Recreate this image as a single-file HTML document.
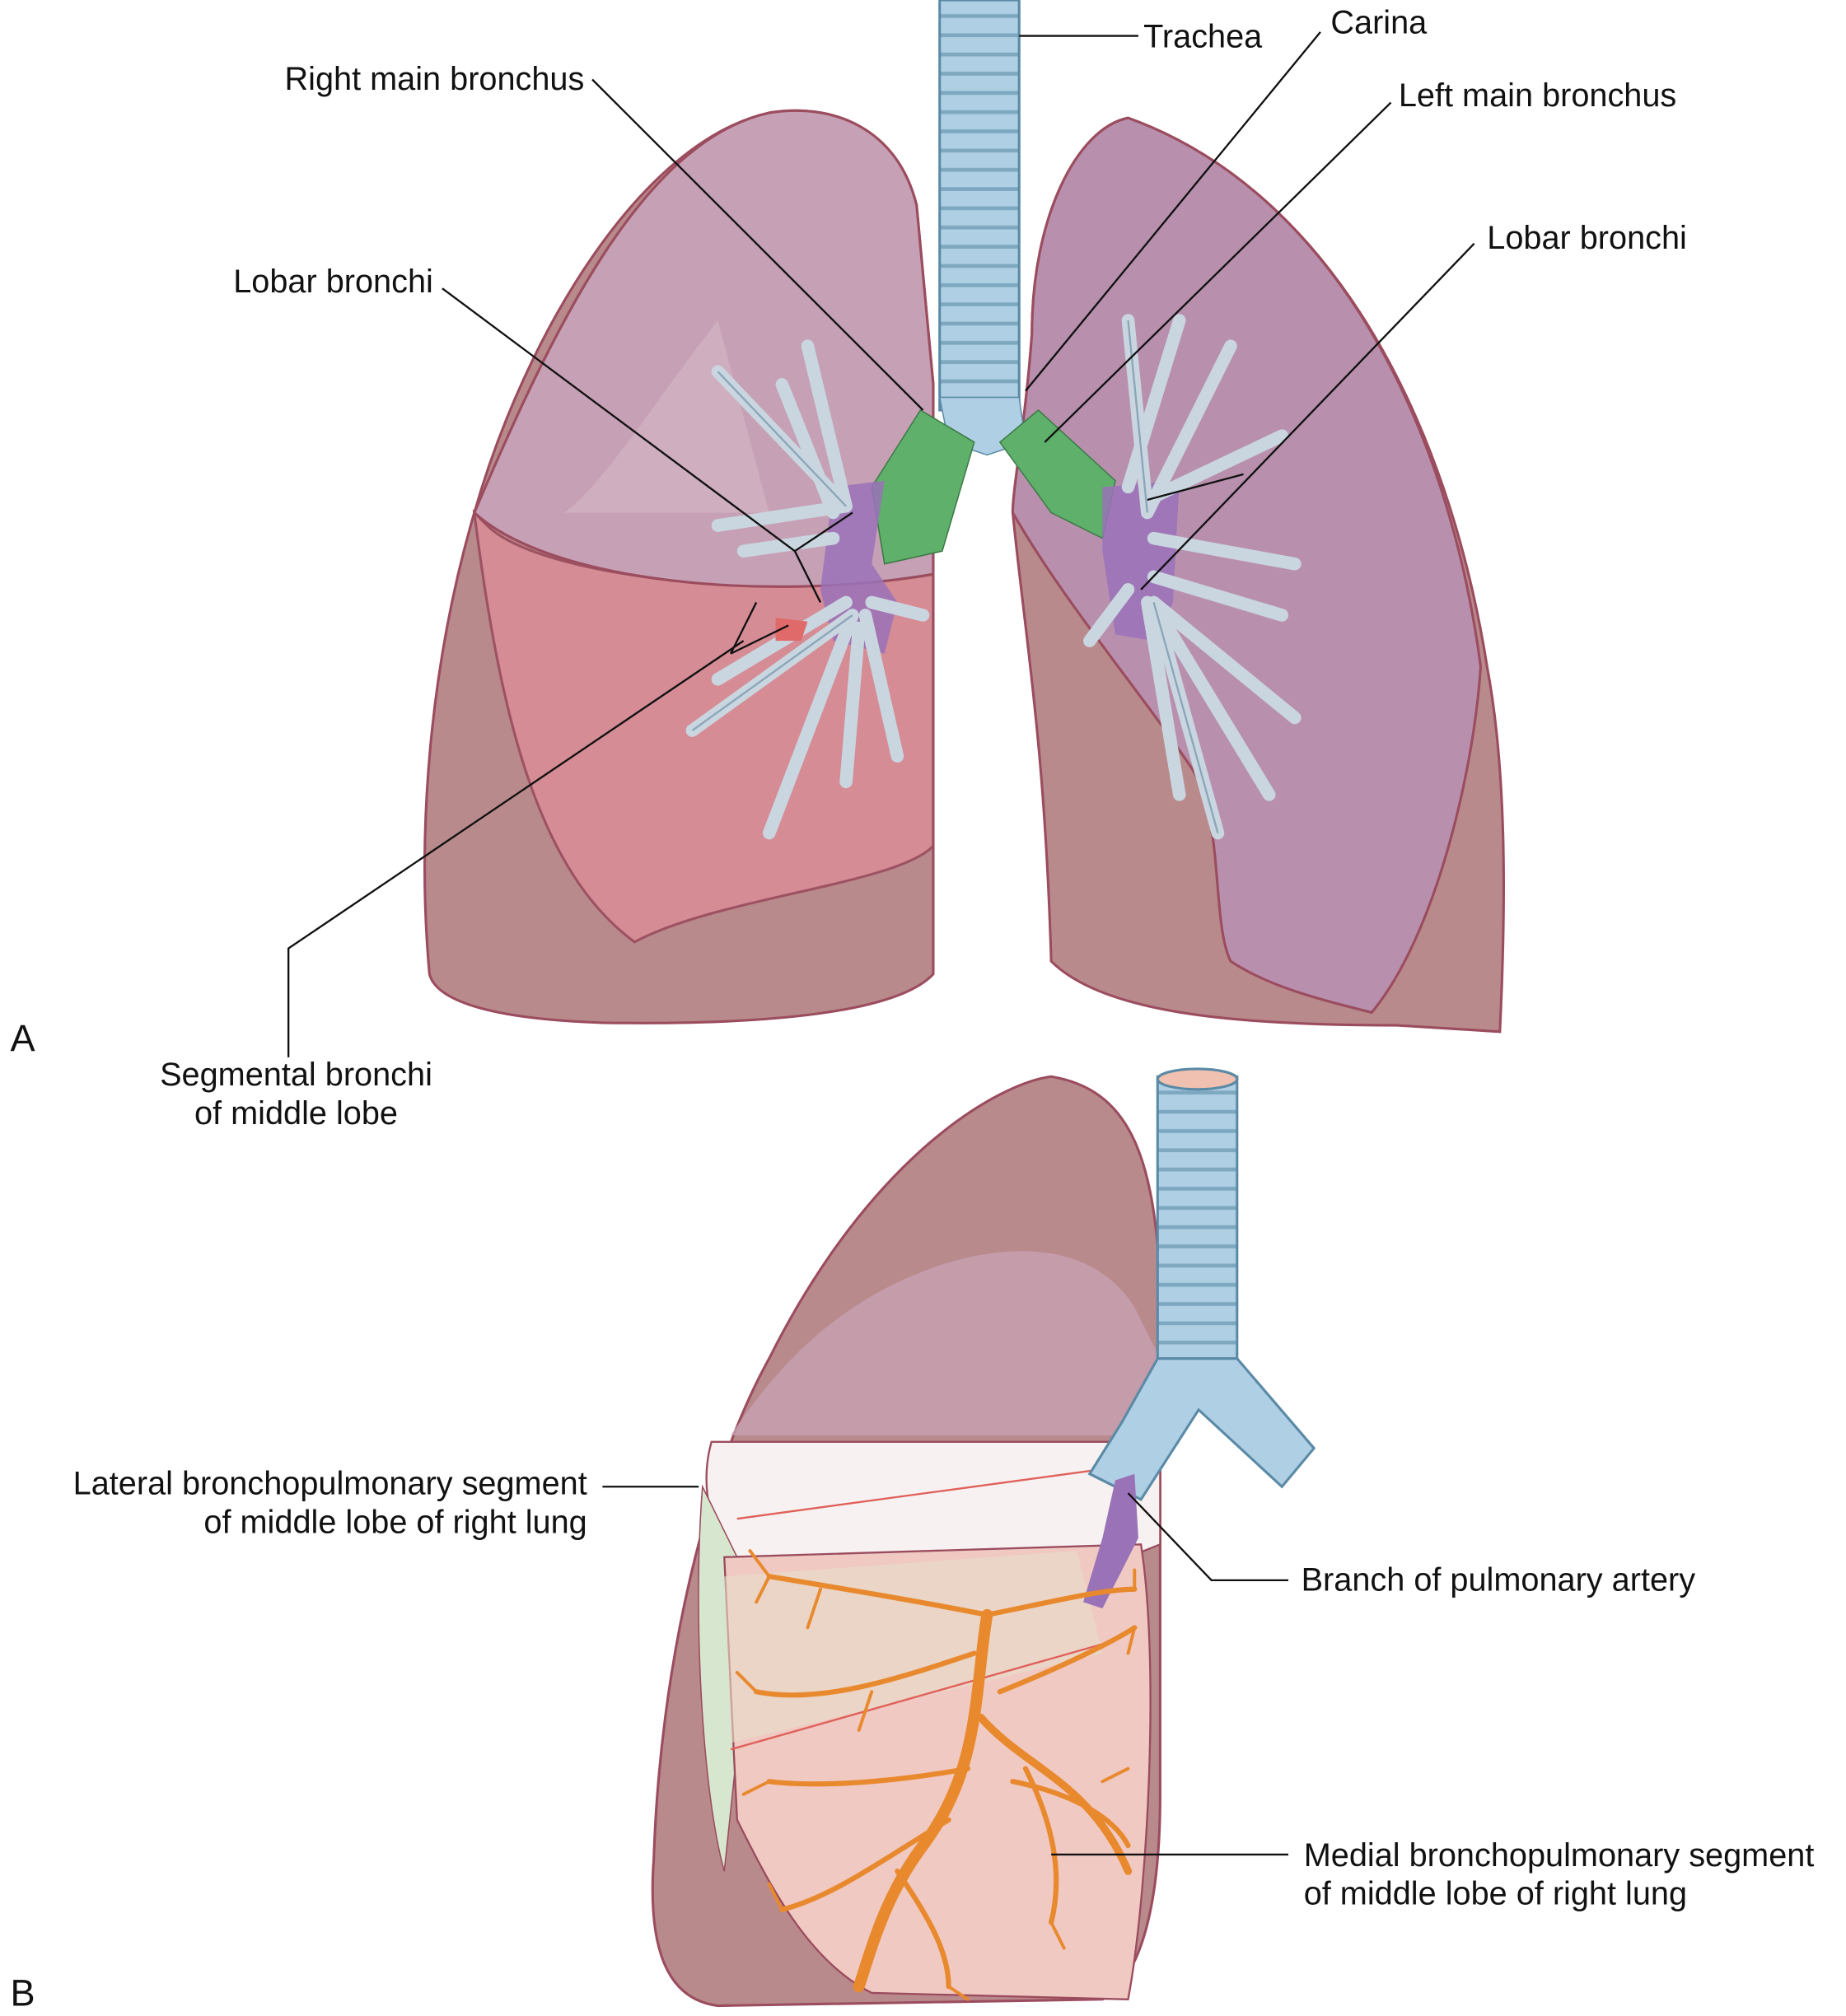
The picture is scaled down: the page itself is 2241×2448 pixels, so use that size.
<!DOCTYPE html>
<html><head><meta charset="utf-8"><style>
html,body{margin:0;padding:0;background:#fff}
svg{display:block}
text{font-family:"Liberation Sans",sans-serif;font-size:25.5px;fill:#111}
</style></head><body>
<svg width="2241" height="2448" viewBox="0 0 1440 1573" xmlns="http://www.w3.org/2000/svg">
<defs>
<pattern id="rings" width="20" height="15" patternUnits="userSpaceOnUse">
<rect width="20" height="15" fill="#afd0e4"/><rect y="11" width="20" height="3" fill="#7ea8c0"/>
</pattern>
</defs>
<!-- Part A right lung (viewer left) -->
<path d="M600,88 C650,80 700,100 715,160 L728,300 L728,760 C700,790 600,800 470,798 C380,795 340,780 335,760 C325,650 335,520 370,400 C410,260 500,110 600,88Z" fill="#b98a8c" stroke="#9b4c5e" stroke-width="2"/>
<path d="M370,400 L380,410 C420,450 600,470 728,448 L728,660 C700,690 560,700 495,735 C420,680 390,560 370,400Z" fill="#d98d97" stroke="#9b4c5e" stroke-width="2" opacity=".9"/>
<path d="M370,400 C430,260 500,110 600,88 C650,80 700,100 715,160 L728,300 L728,448 C600,470 430,455 370,400Z" fill="#c6a0b4" stroke="#9b4c5e" stroke-width="2"/>
<path d="M440,400 C470,380 520,300 560,250 L600,400 Z" fill="#d8bccb" opacity=".5"/>
<!-- Part A left lung -->
<path d="M880,92 C840,100 805,170 805,260 C800,330 790,380 790,400 C800,500 815,580 820,750 C860,790 960,800 1090,800 L1170,805 C1175,700 1175,600 1160,520 C1130,330 1040,150 880,92Z" fill="#b98a8c" stroke="#9b4c5e" stroke-width="2"/>
<path d="M880,92 C840,100 805,170 805,260 C800,330 790,380 790,400 C830,470 890,540 930,600 C955,640 945,720 960,750 C990,770 1030,780 1070,790 C1120,730 1150,600 1155,520 C1130,330 1040,150 880,92Z" fill="#b890ae" stroke="#9b4c5e" stroke-width="2"/>
<!-- Trachea -->
<rect x="733" y="0" width="62" height="320" fill="url(#rings)" stroke="#5b8aa6" stroke-width="2"/>
<path d="M733,310 L795,310 L800,345 L770,355 L740,345Z" fill="#afd0e4" stroke="#5b8aa6"/>
<!-- green main bronchi -->
<path d="M718,320 L760,345 L735,430 L690,440 L680,380Z" fill="#5fb06a" stroke="#3d7a48"/>
<path d="M780,345 L810,320 L870,375 L860,420 L820,400 Z" fill="#5fb06a" stroke="#3d7a48"/>
<!-- purple lobar -->
<path d="M650,380 L690,375 L680,440 L700,470 L690,510 L650,500 L640,460Z" fill="#9a72b8" opacity=".85"/>
<path d="M860,380 L920,375 L915,470 L900,500 L870,495 L860,430Z" fill="#9a72b8" opacity=".85"/>
<!-- bronchial trees -->
<g stroke="#c9d6e0" stroke-width="10" fill="none" stroke-linecap="round">
<path d="M660,395 L560,290 M660,395 L630,270 M660,395 L560,410 M650,420 L580,430 M650,400 L610,300 M665,480 L540,570 M665,480 L600,650 M670,490 L660,610 M675,480 L700,590 M660,470 L560,530 M680,470 L720,480"/>
<path d="M895,400 L880,250 M895,400 L960,270 M895,390 L1000,340 M900,420 L1010,440 M900,450 L1000,480 M900,470 L950,650 M900,470 L1010,560 M895,470 L920,620 M905,480 L990,620 M880,460 L850,500 M880,380 L920,250"/>
</g>
<g stroke="#8aa6b8" stroke-width="1.5" fill="none">
<path d="M660,395 L560,290 M665,480 L540,570 M895,400 L880,250 M900,470 L950,650"/>
</g>
<path d="M605,482 L630,485 L625,500 L605,500Z" fill="#e06a6a"/>
<!-- Part B lung -->
<path d="M820,840 C780,845 680,900 600,1060 C550,1150 515,1300 510,1450 C505,1520 520,1560 560,1565 L860,1560 C895,1540 905,1470 905,1400 L905,1000 C900,900 880,850 820,840Z" fill="#b98a8c" stroke="#9b4c5e" stroke-width="2"/>
<path d="M570,1120 C610,1060 660,1010 740,985 C810,965 860,980 885,1020 L905,1060 L905,1120Z" fill="#c7a0b2" opacity=".8"/>
<path d="M555,1125 L905,1125 L905,1205 L880,1215 C800,1225 620,1225 575,1215 C555,1200 545,1160 555,1125Z" fill="#f7f1f1" stroke="#9b4c5e" stroke-width="1.5"/>
<path d="M548,1160 L575,1215 L575,1365 L565,1460 C548,1400 540,1260 548,1160Z" fill="#d7e6cf" stroke="#9b4c5e"/>
<path d="M565,1215 L890,1205 C905,1300 895,1480 880,1560 L680,1555 C630,1530 600,1470 575,1420 Z" fill="#f0c9c2" stroke="#9b4c5e" stroke-width="1.5"/>
<path d="M565,1230 L840,1210 L860,1290 L570,1360Z" fill="#e8ddc8" opacity=".6"/>
<line x1="575" y1="1185" x2="870" y2="1145" stroke="#e0605a" stroke-width="1.5"/>
<line x1="570" y1="1365" x2="870" y2="1280" stroke="#e0605a" stroke-width="1.5"/>
<!-- B trachea -->
<rect x="903" y="840" width="62" height="220" fill="url(#rings)" stroke="#5b8aa6" stroke-width="2"/>
<ellipse cx="934" cy="842" rx="31" ry="8" fill="#f0c0b0" stroke="#5b8aa6" stroke-width="2"/>
<path d="M903,1060 L875,1110 L850,1150 L890,1170 L935,1100 L1000,1160 L1025,1130 L965,1060Z" fill="#afd0e4" stroke="#5b8aa6" stroke-width="2"/>
<path d="M870,1155 L885,1150 L888,1200 L860,1255 L845,1250 L860,1200Z" fill="#9a72b8"/>
<!-- orange tree -->
<g stroke="#e8892e" fill="none" stroke-linecap="round">
<path d="M770,1260 C760,1320 765,1380 720,1440 C690,1480 680,1520 670,1550" stroke-width="9"/>
<path d="M765,1340 C800,1380 850,1390 880,1460" stroke-width="6"/>
<path d="M770,1260 C720,1250 660,1240 600,1230 M760,1290 C700,1310 640,1330 590,1320 M755,1380 C700,1390 640,1395 600,1390 M740,1420 C690,1450 650,1480 610,1490 M770,1260 C820,1250 860,1240 885,1240 M780,1320 C830,1300 870,1280 885,1270 M800,1380 C820,1420 830,1460 820,1500 M700,1460 C720,1490 740,1520 740,1550 M790,1390 C840,1400 870,1420 880,1440" stroke-width="4"/>
<path d="M600,1230 L585,1210 M600,1230 L590,1250 M590,1320 L575,1305 M600,1390 L580,1400 M610,1490 L600,1470 M885,1240 L885,1225 M885,1270 L880,1290 M820,1500 L830,1520 M740,1550 L755,1560 M640,1240 L630,1270 M680,1320 L670,1350 M860,1390 L880,1380" stroke-width="2.5"/>
</g>
<!-- leader lines -->
<g stroke="#111" stroke-width="1.5" fill="none">
<path d="M795,28 L888,28"/>
<path d="M1030,25 L800,305"/>
<path d="M1085,80 L815,345"/>
<path d="M1150,190 L890,460"/>
<path d="M970,370 L895,390"/>
<path d="M462,62 L720,320"/>
<path d="M345,225 L620,430 M620,430 L665,400 M620,430 L640,470"/>
<path d="M225,825 L225,740 L580,500 M570,510 L590,470 M570,510 L615,488"/>
<path d="M470,1160 L545,1160"/>
<path d="M1005,1233 L945,1233 L880,1165"/>
<path d="M1005,1447 L820,1447"/>
</g>
<!-- labels -->
<text x="892" y="37">Trachea</text>
<text x="1038" y="26">Carina</text>
<text x="1091" y="83">Left main bronchus</text>
<text x="1160" y="194">Lobar bronchi</text>
<text x="222" y="70">Right main bronchus</text>
<text x="182" y="228">Lobar bronchi</text>
<text x="8" y="820" style="font-size:29px">A</text>
<text x="231" y="847" text-anchor="middle">Segmental bronchi</text>
<text x="231" y="877" text-anchor="middle">of middle lobe</text>
<text x="458" y="1166" text-anchor="end">Lateral bronchopulmonary segment</text>
<text x="458" y="1196" text-anchor="end">of middle lobe of right lung</text>
<text x="1015" y="1241">Branch of pulmonary artery</text>
<text x="1017" y="1456">Medial bronchopulmonary  segment</text>
<text x="1017" y="1486">of middle lobe of right lung</text>
<text x="8" y="1565" style="font-size:29px">B</text>
</svg>
</body></html>
